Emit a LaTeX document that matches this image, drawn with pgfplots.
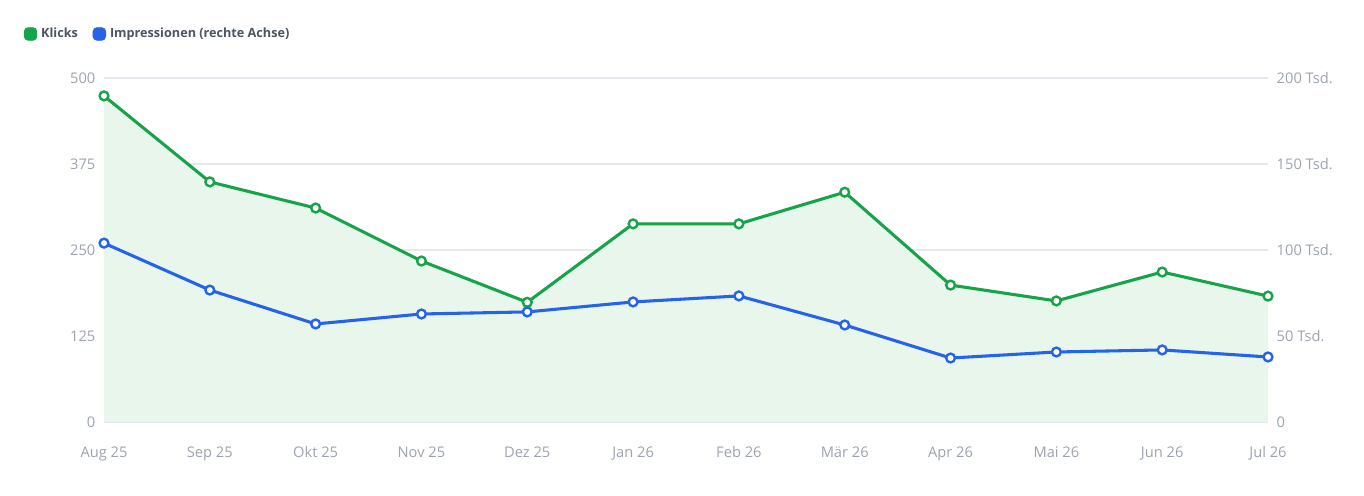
\documentclass[border=0pt]{standalone}
\usepackage{fontspec}
\setmainfont{Open Sans}
\usepackage{pgfplots}
\pgfplotsset{compat=1.18}

\definecolor{klick}{HTML}{16A34A}
\definecolor{impr}{HTML}{2563EB}
\definecolor{ticktxt}{HTML}{9CA3AF}
\definecolor{gridc}{HTML}{E5E9EF}
\definecolor{areafill}{HTML}{E8F6EC}
\definecolor{legtxt}{HTML}{4B5563}

\pgfplotstableread{
x klicks impr
0 474 104000
1 349 76700
2 311 57000
3 234 62800
4 174 64000
5 288 69800
6 288 73300
7 334 56400
8 199 37200
9 176 40700
10 218 41900
11 183 37800
}\datatable

\begin{document}
\begin{tikzpicture}
\useasboundingbox (0pt,0pt) rectangle (1023pt,372pt);
\pgfplotsset{
  base/.style={
    at={(78pt,55.5pt)}, anchor=south west,
    scale only axis, width=873pt, height=258pt,
    xmin=0, xmax=11, axis line style={draw=none},
    major tick length=0pt,
    tick label style={font=\fontsize{11}{13}\selectfont, text=ticktxt},
    /pgf/number format/assume math mode=true,
  },
}
\begin{axis}[base,
  ymin=0, ymax=500, ytick={0,125,250,375,500},
  ymajorgrids, grid style={gridc, line width=0.8pt},
  xtick={0,...,11},
  xticklabels={Aug 25,Sep 25,Okt 25,Nov 25,Dez 25,Jan 26,Feb 26,Mär 26,Apr 26,Mai 26,Jun 26,Jul 26},
  xticklabel style={yshift=-15pt},
  yticklabel style={xshift=-3pt},
  legend style={at={(-0.0725,1.128)}, anchor=west, draw=none, fill=none,
    legend columns=2, font=\fontsize{9.5}{11}\selectfont\bfseries, text=legtxt,
    /tikz/every odd column/.append style={column sep=1pt},
    /tikz/every even column/.append style={column sep=9pt}},
  legend cell align=left,
]
\addlegendimage{legend image code/.code={\fill[klick, rounded corners=3pt] (0pt,-4.8pt) rectangle (9.6pt,4.8pt);}}
\addlegendentry{Klicks}
\addlegendimage{legend image code/.code={\fill[impr, rounded corners=3pt] (0pt,-4.8pt) rectangle (9.6pt,4.8pt);}}
\addlegendentry{Impressionen (rechte Achse)}
\addplot[draw=none, fill=areafill, forget plot] table[x=x, y=klicks] {\datatable} \closedcycle;
\addplot[klick, line width=2.3pt, mark=*, mark size=3.3pt,
  mark options={fill=white, draw=klick, line width=1.8pt}, forget plot]
  table[x=x, y=klicks] {\datatable};
\end{axis}
\begin{axis}[base,
  ymin=0, ymax=200000, ytick={0,50000,100000,150000,200000},
  yticklabels={0,50 Tsd.,100 Tsd.,150 Tsd.,200 Tsd.},
  scaled y ticks=false,
  axis y line*=right, axis x line=none,
  yticklabel style={xshift=3pt},
]
\addplot[impr, line width=2.3pt, mark=*, mark size=3.3pt,
  mark options={fill=white, draw=impr, line width=1.8pt}]
  table[x=x, y=impr] {\datatable};
\end{axis}
\end{tikzpicture}
\end{document}
